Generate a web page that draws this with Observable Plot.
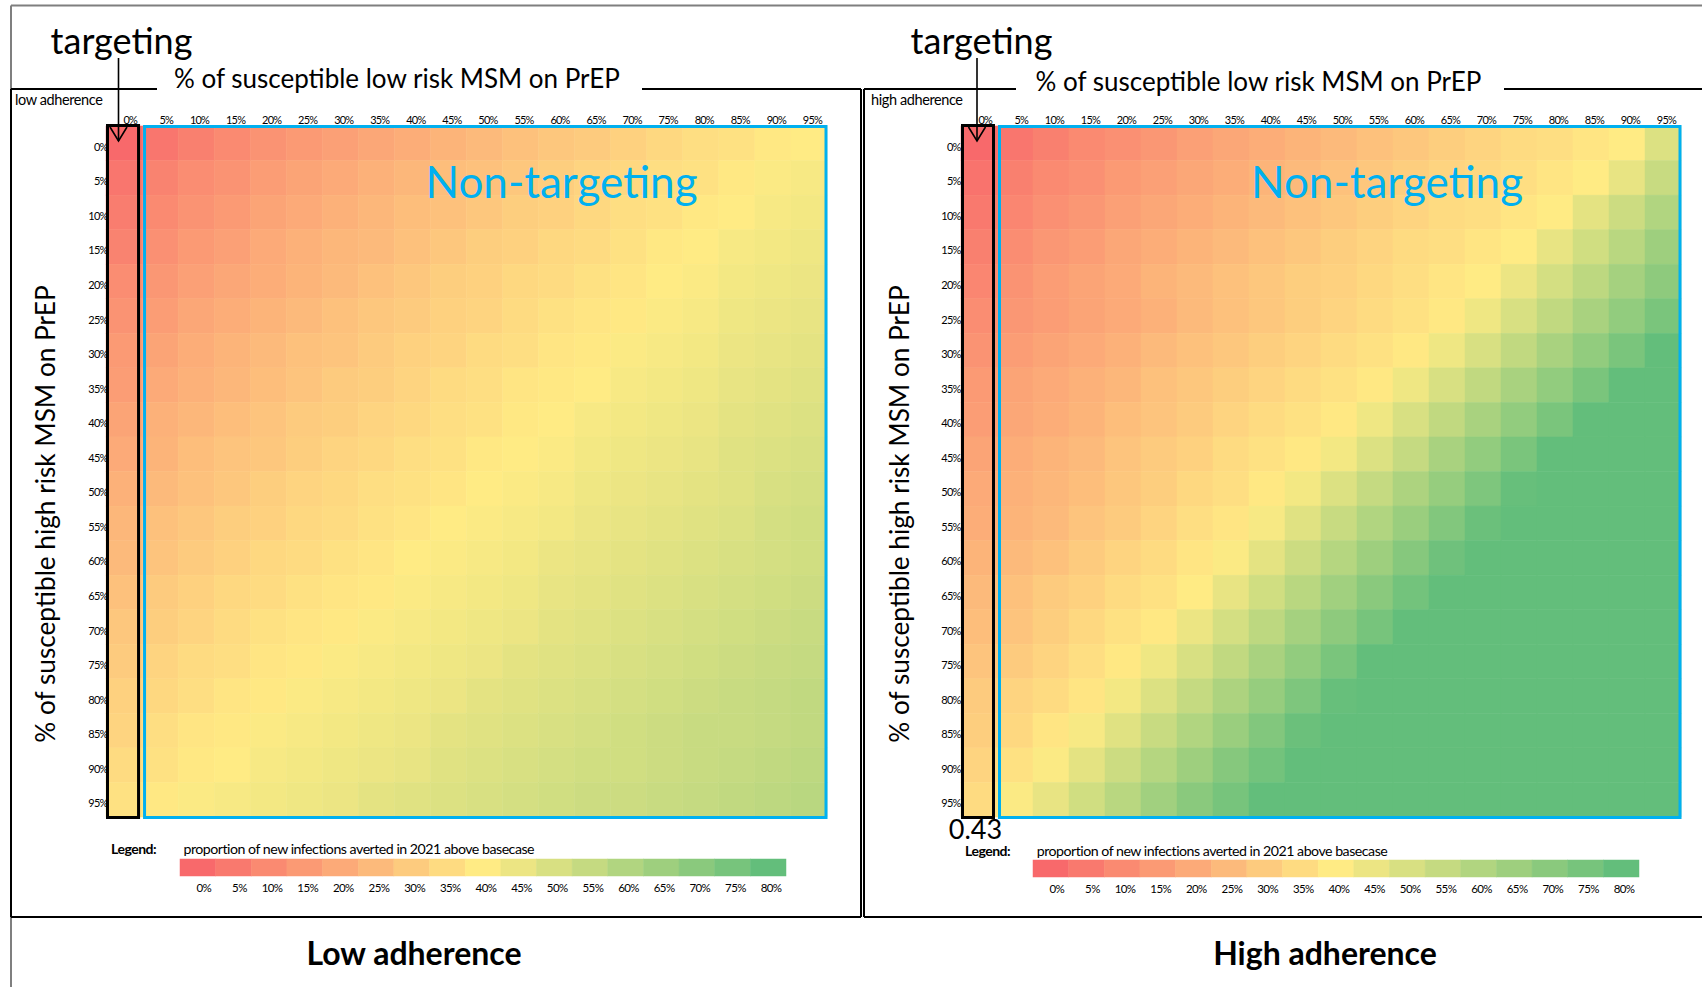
<!DOCTYPE html>
<html><head><meta charset="utf-8">
<script src="https://cdn.jsdelivr.net/npm/d3@7"></script>
<script src="https://cdn.jsdelivr.net/npm/@observablehq/plot@0.6"></script>
<style>
body{margin:0;background:#fff;}
#page{position:relative;width:1702px;height:987px;overflow:hidden;background:#fff;font-family:Lato,"Open Sans",sans-serif;}
.hm text{letter-spacing:-0.8px;}
.lg text{letter-spacing:-0.6px;}
</style></head><body><div id="page"></div>
<script>
// Column categories: % of susceptible low risk MSM on PrEP
const lowRiskLabels = ["0%","5%","10%","15%","20%","25%","30%","35%","40%","45%","50%","55%","60%","65%","70%","75%","80%","85%","90%","95%"];
// Row categories: % of susceptible high risk MSM on PrEP
const highRiskLabels = ["0%","5%","10%","15%","20%","25%","30%","35%","40%","45%","50%","55%","60%","65%","70%","75%","80%","85%","90%","95%"];
// Legend swatches
const legendLabels = ["0%","5%","10%","15%","20%","25%","30%","35%","40%","45%","50%","55%","60%","65%","70%","75%","80%"];
const legendValues = [0,0.05,0.10,0.15,0.20,0.25,0.30,0.35,0.40,0.45,0.50,0.55,0.60,0.65,0.70,0.75,0.80];

// Proportion of new infections averted (rows = high risk %, columns = low risk %)
const lowAdherence = [
[0.00,0.04,0.07,0.10,0.13,0.15,0.17,0.19,0.21,0.23,0.25,0.27,0.29,0.30,0.32,0.34,0.36,0.37,0.39,0.40],
[0.04,0.08,0.11,0.13,0.16,0.18,0.20,0.22,0.24,0.26,0.27,0.29,0.31,0.33,0.34,0.36,0.37,0.39,0.41,0.42],
[0.06,0.10,0.13,0.15,0.18,0.20,0.22,0.24,0.26,0.27,0.29,0.31,0.32,0.34,0.36,0.37,0.39,0.40,0.42,0.43],
[0.08,0.12,0.15,0.17,0.20,0.22,0.24,0.25,0.27,0.29,0.31,0.32,0.34,0.35,0.37,0.39,0.40,0.42,0.43,0.44],
[0.11,0.14,0.17,0.19,0.21,0.23,0.25,0.27,0.29,0.31,0.32,0.34,0.35,0.37,0.38,0.40,0.41,0.43,0.44,0.45],
[0.13,0.16,0.19,0.21,0.23,0.25,0.27,0.29,0.30,0.32,0.33,0.35,0.37,0.38,0.39,0.41,0.42,0.44,0.45,0.46],
[0.15,0.18,0.21,0.23,0.25,0.27,0.28,0.30,0.32,0.33,0.35,0.36,0.38,0.39,0.41,0.42,0.43,0.45,0.46,0.47],
[0.16,0.20,0.22,0.24,0.26,0.28,0.30,0.31,0.33,0.35,0.36,0.38,0.39,0.40,0.42,0.43,0.44,0.46,0.47,0.48],
[0.18,0.22,0.24,0.26,0.28,0.30,0.31,0.33,0.34,0.36,0.37,0.39,0.40,0.42,0.43,0.44,0.45,0.47,0.48,0.49],
[0.20,0.23,0.26,0.28,0.29,0.31,0.33,0.34,0.36,0.37,0.39,0.40,0.41,0.43,0.44,0.45,0.46,0.48,0.49,0.50],
[0.22,0.25,0.27,0.29,0.31,0.33,0.34,0.36,0.37,0.38,0.40,0.41,0.42,0.44,0.45,0.46,0.47,0.48,0.50,0.51],
[0.24,0.27,0.29,0.31,0.32,0.34,0.35,0.37,0.38,0.40,0.41,0.42,0.43,0.45,0.46,0.47,0.48,0.49,0.51,0.52],
[0.25,0.28,0.30,0.32,0.34,0.35,0.37,0.38,0.40,0.41,0.42,0.43,0.45,0.46,0.47,0.48,0.49,0.50,0.51,0.52],
[0.27,0.30,0.32,0.34,0.35,0.37,0.38,0.39,0.41,0.42,0.43,0.44,0.46,0.47,0.48,0.49,0.50,0.51,0.52,0.53],
[0.29,0.31,0.33,0.35,0.37,0.38,0.39,0.41,0.42,0.43,0.44,0.45,0.47,0.48,0.49,0.50,0.51,0.52,0.53,0.54],
[0.30,0.33,0.35,0.36,0.38,0.39,0.41,0.42,0.43,0.44,0.45,0.47,0.48,0.49,0.50,0.51,0.52,0.53,0.54,0.55],
[0.32,0.34,0.36,0.38,0.39,0.41,0.42,0.43,0.44,0.45,0.47,0.48,0.49,0.50,0.51,0.52,0.53,0.54,0.55,0.56],
[0.33,0.36,0.38,0.39,0.41,0.42,0.43,0.44,0.45,0.47,0.48,0.49,0.50,0.51,0.52,0.53,0.54,0.54,0.55,0.56],
[0.35,0.37,0.39,0.40,0.42,0.43,0.44,0.45,0.46,0.48,0.49,0.50,0.51,0.52,0.52,0.53,0.54,0.55,0.56,0.57],
[0.37,0.39,0.41,0.42,0.43,0.44,0.45,0.47,0.48,0.49,0.50,0.51,0.52,0.53,0.53,0.54,0.55,0.56,0.57,0.58]
];
const highAdherence = [
[0.00,0.04,0.07,0.10,0.12,0.14,0.17,0.19,0.21,0.23,0.25,0.27,0.29,0.31,0.33,0.35,0.36,0.38,0.40,0.49],
[0.03,0.07,0.10,0.12,0.15,0.17,0.19,0.21,0.23,0.25,0.27,0.29,0.31,0.33,0.34,0.36,0.38,0.40,0.46,0.54],
[0.05,0.09,0.12,0.14,0.17,0.19,0.21,0.23,0.25,0.27,0.29,0.31,0.33,0.35,0.36,0.38,0.40,0.47,0.53,0.60],
[0.07,0.11,0.14,0.16,0.19,0.21,0.23,0.25,0.27,0.29,0.31,0.33,0.35,0.36,0.38,0.40,0.46,0.52,0.58,0.65],
[0.09,0.13,0.16,0.18,0.20,0.23,0.25,0.27,0.29,0.31,0.32,0.34,0.36,0.38,0.40,0.45,0.51,0.57,0.63,0.69],
[0.11,0.14,0.16,0.18,0.20,0.22,0.25,0.27,0.29,0.31,0.33,0.35,0.37,0.39,0.44,0.50,0.56,0.62,0.68,0.74],
[0.13,0.16,0.18,0.20,0.22,0.25,0.27,0.29,0.31,0.33,0.35,0.37,0.39,0.44,0.50,0.56,0.62,0.68,0.74,0.80],
[0.15,0.18,0.20,0.22,0.24,0.27,0.29,0.31,0.33,0.35,0.37,0.39,0.44,0.50,0.56,0.62,0.68,0.74,0.80,0.82],
[0.16,0.19,0.21,0.23,0.26,0.28,0.30,0.33,0.35,0.37,0.39,0.44,0.50,0.56,0.62,0.68,0.74,0.80,0.82,0.84],
[0.18,0.21,0.23,0.25,0.28,0.30,0.32,0.35,0.37,0.39,0.43,0.49,0.55,0.62,0.68,0.74,0.80,0.82,0.84,0.86],
[0.20,0.22,0.24,0.26,0.29,0.31,0.34,0.36,0.39,0.43,0.49,0.55,0.61,0.67,0.73,0.79,0.81,0.83,0.85,0.87],
[0.21,0.23,0.25,0.28,0.30,0.33,0.36,0.38,0.42,0.48,0.54,0.60,0.66,0.72,0.78,0.81,0.83,0.85,0.87,0.89],
[0.23,0.25,0.27,0.30,0.33,0.35,0.38,0.41,0.47,0.53,0.59,0.65,0.71,0.77,0.80,0.82,0.84,0.86,0.88,0.90],
[0.25,0.27,0.30,0.32,0.35,0.37,0.40,0.46,0.52,0.58,0.64,0.70,0.76,0.81,0.83,0.85,0.87,0.89,0.90,0.91],
[0.26,0.28,0.31,0.34,0.37,0.39,0.45,0.51,0.57,0.63,0.69,0.75,0.81,0.83,0.85,0.87,0.89,0.90,0.91,0.92],
[0.28,0.30,0.33,0.36,0.39,0.44,0.50,0.56,0.62,0.68,0.74,0.80,0.82,0.84,0.86,0.88,0.89,0.90,0.91,0.92],
[0.30,0.33,0.35,0.38,0.43,0.49,0.55,0.61,0.67,0.73,0.79,0.81,0.83,0.85,0.87,0.89,0.90,0.91,0.92,0.93],
[0.31,0.34,0.38,0.42,0.48,0.54,0.60,0.66,0.72,0.78,0.80,0.82,0.84,0.86,0.88,0.89,0.90,0.91,0.92,0.93],
[0.33,0.37,0.41,0.47,0.53,0.59,0.65,0.71,0.76,0.80,0.82,0.84,0.86,0.88,0.89,0.90,0.91,0.92,0.93,0.94],
[0.35,0.41,0.46,0.52,0.58,0.64,0.70,0.75,0.81,0.83,0.85,0.87,0.88,0.89,0.90,0.91,0.92,0.93,0.94,0.95]
];

const colorOpts = {type:"linear", domain:[0,0.4,0.8], range:["#F8696B","#FFEB84","#63BE7B"], clamp:true, interpolate:"rgb"};
const page = document.getElementById("page");

function heatmap(matrix, left, width, gridLeft, gridRight, ytickDx) {
  const data = [];
  matrix.forEach((row, r) => row.forEach((v, c) => data.push({low: lowRiskLabels[c], high: highRiskLabels[r], v})));
  const colW = (gridRight - gridLeft) / 20;
  const p = Plot.plot({
    width, height: 917,
    marginLeft: gridLeft - left, marginRight: left + width - gridRight,
    marginTop: 126, marginBottom: 100,
    className: "hm",
    style: {background: "transparent", fontFamily: "Lato, sans-serif", fontSize: "11px", overflow: "visible"},
    x: {domain: lowRiskLabels, padding: 0, round: false, axis: null},
    y: {domain: highRiskLabels, padding: 0, round: false, axis: null},
    color: colorOpts,
    marks: [
      Plot.cell(data, {x: "low", y: "high", fill: "v", stroke: "v", strokeWidth: 0.5}),
      Plot.axisX({anchor: "top", label: null, tickSize: 0, tickPadding: 3, textAnchor: "end", dx: colW / 2 - 5.5, fontSize: 11}),
      Plot.axisY({anchor: "left", label: null, tickSize: 0, tickPadding: 0, dx: ytickDx, dy: 3.5, fontSize: 11}),
      Plot.cell([lowRiskLabels[0]], {x: d => d, fill: "none", stroke: "black", strokeWidth: 3, insetLeft: 1.5, insetRight: 3.5, insetTop: -0.5, insetBottom: -0.5}),
      Plot.frame({stroke: "#00B0F0", strokeWidth: 3, insetLeft: colW + 2, insetRight: 1.5, insetTop: 0, insetBottom: 0})
    ]
  });
  p.style.position = "absolute"; p.style.left = left + "px"; p.style.top = "0px";
  page.appendChild(p);
}

function legend(left, top) {
  const w = 606, sw = w / legendLabels.length;
  const p = Plot.plot({
    width: w + 30, height: 41,
    marginLeft: 0, marginRight: 30, marginTop: 0, marginBottom: 24,
    className: "lg",
    style: {background: "transparent", fontFamily: "Lato, sans-serif", fontSize: "11.5px", overflow: "visible"},
    x: {domain: legendLabels, padding: 0, round: false, axis: null},
    color: colorOpts,
    marks: [
      Plot.cell(legendLabels.map((l, i) => ({l, v: legendValues[i]})), {x: "l", fill: "v", stroke: "v", strokeWidth: 0.5}),
      Plot.axisX({anchor: "bottom", label: null, tickSize: 0, tickPadding: 7, textAnchor: "end", dx: sw / 2 - 5})
    ]
  });
  p.style.position = "absolute"; p.style.left = left + "px"; p.style.top = top + "px";
  page.appendChild(p);
}

heatmap(lowAdherence, 0, 861, 106, 827, 1);
heatmap(highAdherence, 864, 838, 961, 1681, -1);
legend(180, 859);
legend(1033, 860);

// Annotation layer
const svg = d3.select(page).append("svg")
  .attr("width", 1702).attr("height", 987)
  .style("position", "absolute").style("left", "0px").style("top", "0px")
  .style("pointer-events", "none");
function ln(x1, y1, x2, y2, stroke = "#000", w = 2) {
  svg.append("line").attr("x1", x1).attr("y1", y1).attr("x2", x2).attr("y2", y2)
    .attr("stroke", stroke).attr("stroke-width", w);
}
function tx(str, x, y, o = {}) {
  const t = svg.append("text").attr("x", x).attr("y", y).text(str)
    .attr("font-family", o.family || "Lato, sans-serif")
    .attr("font-size", o.size || 12)
    .attr("font-weight", o.weight || "normal")
    .attr("fill", o.fill || "#000")
    .attr("text-anchor", o.anchor || "start");
  if (o.ls != null) t.attr("letter-spacing", o.ls);
  if (o.rotate) t.attr("transform", `rotate(${o.rotate},${x},${y})`);
  return t;
}

// outer gray frame
ln(11, 5.5, 1702, 5.5, "#7f7f7f", 2);
ln(11, 5.5, 11, 987, "#7f7f7f", 2);
// left panel frame
ln(11, 89, 157, 89); ln(642, 89, 861, 89);
ln(11, 89, 11, 917); ln(861, 89, 861, 917); ln(11, 917, 861, 917);
// right panel frame
ln(864, 89, 1016, 89); ln(1504, 89, 1702, 89);
ln(864, 89, 864, 917); ln(864, 917, 1702, 917);

// targeting arrows
for (const x of [118.5, 977]) {
  ln(x, 58, x, 141, "#000", 1.6);
  svg.append("polyline").attr("points", `${x - 8.5},127 ${x},141 ${x + 8.5},127`)
    .attr("fill", "none").attr("stroke", "#000").attr("stroke-width", 1.6);
}

const panels = [
  {cx: 121.5, topTitle: 397, tb: 88, adh: "low adherence", adhX: 15, yt: 55, nt: 561.5, lgX: 111, lgT: 183.5, lgY: 854, big: "Low adherence", bigX: 414},
  {cx: 981.5, topTitle: 1258.5, tb: 91, adh: "high adherence", adhX: 871, yt: 909, nt: 1387, lgX: 965, lgT: 1036.7, lgY: 856, big: "High adherence", bigX: 1325}
];
for (const p of panels) {
  tx("targeting", p.cx, 54, {size: 36, anchor: "middle"});
  tx("% of susceptible low risk MSM on PrEP", p.topTitle, p.tb, {size: 26, anchor: "middle"});
  tx(p.adh, p.adhX, 105, {size: 14.5, ls: -0.4});
  tx("% of susceptible high risk MSM on PrEP", p.yt, 514, {size: 26.2, anchor: "middle", rotate: -90});
  tx("Non-targeting", p.nt, 198, {size: 44, anchor: "middle", fill: "#00B0F0"});
  tx("Legend:", p.lgX, p.lgY, {size: 14, weight: "bold", ls: -0.5});
  tx("proportion of new infections averted in 2021 above basecase", p.lgT, p.lgY, {size: 14.2, ls: -0.5});
  tx(p.big, p.bigX, 965, {size: 32, weight: "bold", anchor: "middle"});
}
tx("0.43", 975.5, 839, {size: 27, anchor: "middle"});
</script>
</body></html>
